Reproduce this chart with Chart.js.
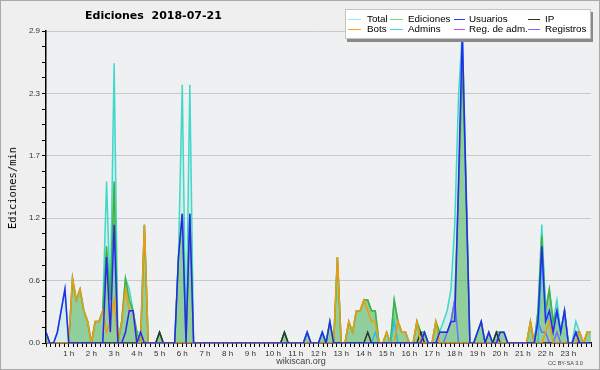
<!DOCTYPE html>
<html><head><meta charset="utf-8">
<script src="https://cdn.jsdelivr.net/npm/chart.js@4.4.1/dist/chart.umd.min.js"></script>
<style>
html,body{margin:0;padding:0;background:#efefef;}
#wrap{position:relative;width:600px;height:370px;background:#efefef;overflow:hidden;}
#c{position:absolute;left:0;top:0;}
#frame{position:absolute;left:0;top:0;width:600px;height:370px;box-sizing:border-box;border:1px solid #a9a9a9;pointer-events:none;}
#title{position:absolute;left:85px;top:9px;font:bold 11px "DejaVu Sans",sans-serif;white-space:pre;color:#000;}
#ytitle{position:absolute;left:12px;top:188px;transform:translate(-50%,-50%) rotate(-90deg);font:10.5px "DejaVu Sans Mono",monospace;color:#000;white-space:nowrap;}
#site{position:absolute;left:301px;top:356px;transform:translateX(-50%);font:9px "Liberation Sans",Arial,sans-serif;color:#444;}
#cc{position:absolute;left:548px;top:360px;font:5.6px "Liberation Sans",Arial,sans-serif;color:#444;white-space:nowrap;}
#legend{position:absolute;left:345px;top:9px;width:244px;height:28px;background:#fff;border:1px solid #c4c4c4;box-shadow:2px 3px 0 #8a8a8a;}
.sw{position:absolute;height:1px;}
.lt{position:absolute;font:9.8px "Liberation Sans",Arial,sans-serif;color:#000;white-space:nowrap;line-height:10px;}
</style></head>
<body>
<div id="wrap">
<canvas id="c" width="600" height="370"></canvas>
<div id="title">Ediciones  2018-07-21</div>
<div id="ytitle">Ediciones/min</div>
<div id="site">wikiscan.org</div>
<div id="cc">CC BY-SA 3.0</div>
<div id="legend"></div>
<div id="frame"></div>
</div>
<script>
// 10-minute intervals, 00:00 .. 24:00 (145 points), values in edits/min
const seriesNames = ["Total","Ediciones","Usuarios","IP","Bots","Admins","Reg. de adm.","Registros"];
const seriesColors = ["#40d8c8","#40b040","#2828f0","#303030","#f29a10","#28c0e0","#e040e0","#6e6eff"];
const legendColors = ["#a0e8e8","#80d080","#3030ff","#303030","#ffa020","#40d0f0","#e040e0","#7070ff"];

const total = [
 0.1,0,0,0.1,0.3,0.5,   0,0.6,0.4,0.5,0.3,0.2,   0,0.2,0.2,0.3,1.5,0.4,   2.6,0,0.2,0.6,0.5,0.3,
 0.1,0.1,1.1,0,0,0,     0.1,0,0,0,0,0.8,         2.4,0,2.4,0,0,0,         0,0,0,0,0,0,
 0,0,0,0,0,0,           0,0,0,0,0,0,             0,0,0,0.1,0,0,           0,0,0,0.1,0,0,
 0,0.1,0,0.2,0,0.8,     0,0,0.2,0.1,0.3,0.3,     0.4,0.4,0.3,0.3,0,0,     0.1,0,0.4,0.2,0.1,0.1,
 0,0,0.2,0.1,0.1,0,     0,0.2,0.1,0.2,0.3,0.5,   1.1,2.3,2.9,1.5,0,0,     0.1,0.2,0,0.1,0,0.1,
 0.1,0.1,0,0,0,0,       0,0,0.2,0,0.3,1.1,       0.3,0.5,0.2,0.4,0.1,0.3, 0,0,0.2,0.1,0,0.1,
 0.1];
const ediciones = [
 0.1,0,0,0,0,0,         0,0.6,0.4,0.5,0.3,0.2,   0,0.2,0.2,0.3,0.9,0.4,   1.5,0,0.2,0.6,0.4,0.3,
 0.1,0,1.1,0,0,0,       0.1,0,0,0,0,0.8,         1.2,0,1.2,0,0,0,         0,0,0,0,0,0,
 0,0,0,0,0,0,           0,0,0,0,0,0,             0,0,0,0.1,0,0,           0,0,0,0.1,0,0,
 0,0.1,0,0.2,0,0.8,     0,0,0.2,0.1,0.3,0.3,     0.4,0.4,0.3,0.3,0,0,     0.1,0,0.4,0.2,0.1,0.1,
 0,0,0.2,0.1,0.1,0,     0,0.2,0.1,0.1,0.1,0.2,   0.4,1.4,2.6,1.4,0,0,     0.1,0.2,0,0.1,0,0.1,
 0.1,0.1,0,0,0,0,       0,0,0.2,0,0.3,1.0,       0.3,0.5,0.2,0.3,0.1,0.3, 0,0,0.1,0.1,0,0.1,
 0.1];
const usuarios = [
 0.1,0,0,0.1,0.3,0.5,   0,0,0,0,0,0,             0,0,0,0,0.8,0.1,         1.1,0,0,0.1,0.3,0.3,
 0,0.1,0,0,0,0,         0,0,0,0,0,0.8,           1.2,0,1.2,0,0,0,         0,0,0,0,0,0,
 0,0,0,0,0,0,           0,0,0,0,0,0,             0,0,0,0,0,0,             0,0,0,0.1,0,0,
 0,0.1,0,0.2,0,0,       0,0,0,0,0,0,             0,0,0,0,0,0,             0,0,0,0,0,0,
 0,0,0,0,0.1,0,         0,0,0.1,0.1,0.1,0.2,     0.2,1.5,2.9,1.4,0,0,     0.1,0.2,0,0.1,0,0,
 0.1,0.1,0,0,0,0,       0,0,0,0,0.2,0.9,         0.2,0.3,0.1,0.3,0.1,0.3, 0,0,0.1,0,0,0,
 0];
const ip = [
 0,0,0,0,0,0,           0,0,0,0,0,0,             0,0,0,0,0,0,             0,0,0,0,0,0,
 0,0,0,0,0,0,           0.1,0,0,0,0,0,           0,0,0,0,0,0,             0,0,0,0,0,0,
 0,0,0,0,0,0,           0,0,0,0,0,0,             0,0,0,0.1,0,0,           0,0,0,0,0,0,
 0,0,0,0,0,0,           0,0,0,0,0,0,             0,0.1,0,0,0,0,           0,0,0,0,0,0,
 0,0,0,0.1,0,0,         0,0,0,0,0,0,             0,0,0,0,0,0,             0,0,0,0,0,0.1,
 0,0,0,0,0,0,           0,0,0,0,0,0,             0,0,0,0,0,0,             0,0,0,0,0,0,
 0];
const bots = [
 0,0,0,0,0,0,           0,0.6,0.4,0.5,0.3,0.2,   0,0.2,0.2,0.3,0.1,0.2,   0.4,0,0.2,0.5,0.3,0.3,
 0,0,1.1,0,0,0,         0,0,0,0,0,0,             0,0,0,0,0,0,             0,0,0,0,0,0,
 0,0,0,0,0,0,           0,0,0,0,0,0,             0,0,0,0,0,0,             0,0,0,0,0,0,
 0,0,0,0,0,0.8,         0,0,0.2,0.1,0.3,0.3,     0.4,0.3,0.2,0.2,0,0,     0.1,0,0,0.2,0.1,0.1,
 0,0,0.2,0,0,0,         0,0.2,0,0,0,0,           0,0,0,0,0,0,             0,0,0,0,0,0,
 0,0,0,0,0,0,           0,0,0.2,0,0,0,           0.1,0.2,0,0,0,0,         0,0,0,0.1,0,0.1,
 0.1];
const admins = [
 0,0,0,0,0,0,           0,0,0,0,0,0,             0,0,0,0,0,0,             0,0,0,0,0,0,
 0,0,0,0,0,0,           0,0,0,0,0,0,             0,0,0,0,0,0,             0,0,0,0,0,0,
 0,0,0,0,0,0,           0,0,0,0,0,0,             0,0,0,0,0,0,             0,0,0,0.1,0,0,
 0,0.1,0,0,0,0,         0,0,0,0,0,0,             0,0,0,0.1,0,0,           0,0,0.2,0,0,0,
 0,0,0,0,0,0,           0,0,0,0,0,0,             0,0,0,0,0,0,             0,0,0,0,0,0,
 0,0,0,0,0,0,           0,0,0,0,0,0.8,           0.3,0.2,0.1,0.3,0.1,0.3, 0,0,0,0,0,0,
 0];
const regAdm = new Array(145).fill(0);
const registros = [
 0,0,0,0,0,0,           0,0,0,0,0,0,             0,0,0,0,0,0,             0,0,0,0,0,0,
 0,0,0,0,0,0,           0,0,0,0,0,0,             0,0,0,0,0,0,             0,0,0,0,0,0,
 0,0,0,0,0,0,           0,0,0,0,0,0,             0,0,0,0,0,0,             0,0,0,0,0,0,
 0,0,0,0,0,0,           0,0,0,0,0,0,             0,0,0,0,0,0,             0,0,0,0,0,0,
 0,0,0,0,0,0,           0,0,0,0,0.1,0.2,         0.4,0,0,0,0,0,           0,0,0,0,0,0,
 0,0,0,0,0,0,           0,0,0,0,0.2,0.1,         0.1,0,0,0.1,0,0,         0,0,0.1,0,0,0,
 0];
// category positions in hours (every 10 minutes)
const hours = total.map((_, i) => i / 6);
const yMax = 2.9;
const yTicks = [0.0, 0.6, 1.2, 1.7, 2.3, 2.9];

const values = [total, ediciones, usuarios, ip, bots, admins, regAdm, registros];
// drawing order: smaller = on top
const drawOrder = [8, 7, 0, 2, 1, 3, 4, 5];
const fills = [
  "rgba(64,216,200,0.14)", "rgba(60,170,60,0.45)", false, false, false, false, false, false
];

const datasets = values.map((arr, k) => ({
  label: seriesNames[k],
  data: arr.map((v, i) => ({ x: hours[i], y: v })),
  borderColor: seriesColors[k],
  backgroundColor: fills[k] || seriesColors[k],
  fill: fills[k] ? "origin" : false,
  borderWidth: 1.5,
  pointRadius: 0,
  tension: 0,
  order: drawOrder[k]
}));

// HTML legend, 4 columns x 2 rows (relative to legend box content)
const swatchX = [2, 44, 108, 182];
const swatchW = [13, 13, 11, 12];
const textX = [21, 62, 123, 199];
const rowY = [9, 19];
const lg = document.getElementById('legend');
seriesNames.forEach((name, k) => {
  const col = k % 4, row = Math.floor(k / 4);
  const s = document.createElement('div');
  s.className = 'sw';
  s.style.left = swatchX[col] + 'px';
  s.style.width = swatchW[col] + 'px';
  s.style.top = rowY[row] + 'px';
  s.style.background = legendColors[k];
  lg.appendChild(s);
  const t = document.createElement('div');
  t.className = 'lt';
  t.style.left = textX[col] + 'px';
  t.style.top = (rowY[row] - 5) + 'px';
  t.textContent = name;
  lg.appendChild(t);
});

const tickFont = { family: "'Liberation Sans',Arial,sans-serif", size: 8 };

const bgPlugin = {
  id: 'plotbg',
  beforeDraw(c) {
    const { ctx, chartArea: a } = c;
    ctx.save();
    ctx.fillStyle = '#eef0f2';
    ctx.fillRect(a.left, a.top, a.right - a.left, a.bottom - a.top);
    ctx.restore();
  }
};

new Chart(document.getElementById('c'), {
  type: 'line',
  data: { datasets },
  plugins: [bgPlugin],
  options: {
    responsive: false,
    animation: false,
    devicePixelRatio: 1,
    layout: { padding: { top: 31, right: 9, bottom: 0, left: 0 } },
    plugins: { legend: { display: false }, tooltip: { enabled: false }, title: { display: false } },
    scales: {
      x: {
        type: 'linear', min: 0, max: 24,
        afterFit: s => { s.height = 27; },
        ticks: {
          stepSize: 0.2, autoSkip: false, maxRotation: 0, minRotation: 0, padding: 2,
          font: tickFont, color: '#333',
          callback: v => {
            const r = Math.round(v * 1000) / 1000;
            return (Number.isInteger(r) && r > 0 && r < 24) ? r + ' h' : '';
          }
        },
        grid: { drawOnChartArea: false, tickLength: 4, tickColor: '#000', tickWidth: 1 },
        border: { color: '#000', width: 1.5 }
      },
      y: {
        min: 0, max: yMax,
        afterFit: s => { s.width = 46; },
        ticks: {
          stepSize: yMax / 20, autoSkip: false, padding: 2,
          font: tickFont, color: '#333',
          callback: (v, i) => (i % 4 === 0 ? yTicks[i / 4].toFixed(1) : '')
        },
        grid: {
          color: c => (c.index % 4 === 0 && c.index > 0 ? '#c9c9c9' : 'rgba(0,0,0,0)'),
          tickColor: '#000', tickLength: 4, lineWidth: 1
        },
        border: { color: '#000', width: 1.5 }
      }
    }
  }
});
</script>
</body></html>
